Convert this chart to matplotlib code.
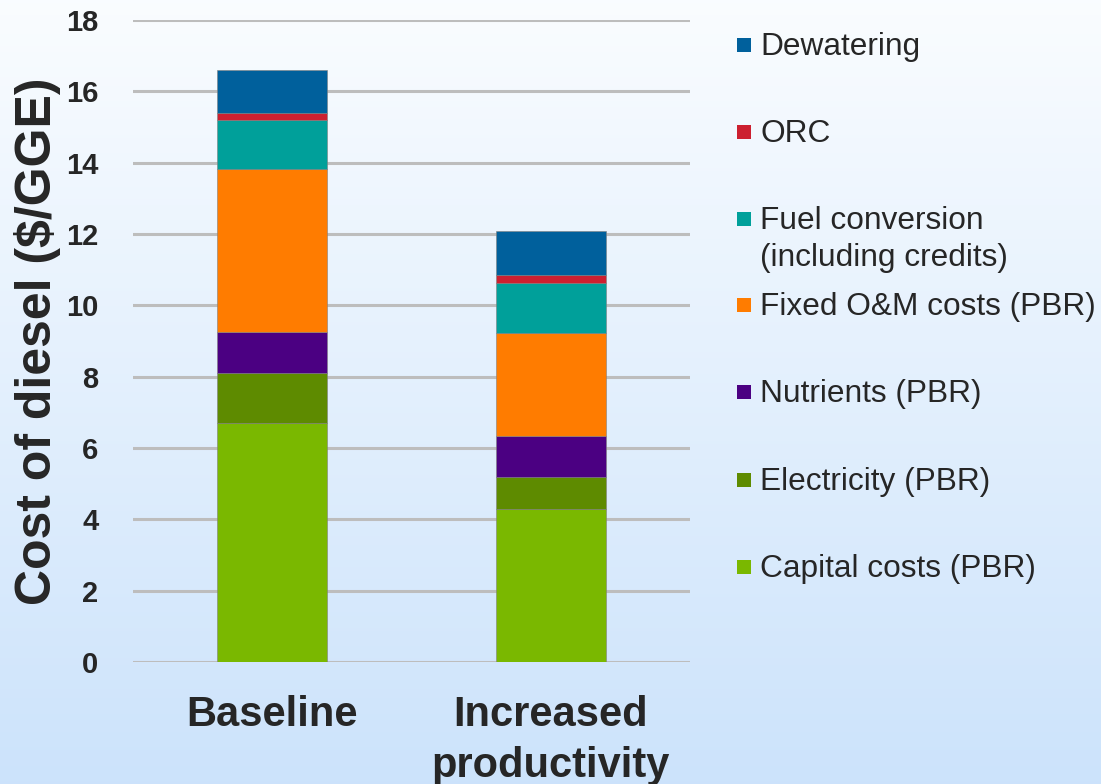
import numpy as np
import matplotlib.pyplot as plt
from matplotlib.patches import Rectangle

# Data, bottom to top
scenarios = ["Baseline", "Increased\nproductivity"]
capital = [6.69, 4.28]
electricity = [1.40, 0.90]
nutrients = [1.15, 1.16]
fixed_om = [4.57, 2.89]
fuel_conversion = [1.40, 1.41]
orc = [0.17, 0.21]
dewatering = [1.22, 1.23]

series = [capital, electricity, nutrients, fixed_om, fuel_conversion, orc, dewatering]
labels = ["Capital costs (PBR)", "Electricity (PBR)", "Nutrients (PBR)",
          "Fixed O&M costs (PBR)", "Fuel conversion\n(including credits)",
          "ORC", "Dewatering"]
colors = ["#7AB800", "#5E8B00", "#4B0082", "#FF7C00", "#00A09A", "#CC2030", "#00609C"]

yticks = [0, 2, 4, 6, 8, 10, 12, 14, 16, 18]

plt.rcParams['font.family'] = ['Liberation Sans', 'DejaVu Sans']
text_color = "#262626"

fig = plt.figure(figsize=(11.01, 7.84), dpi=100)

# Gradient background (white-ish top, light blue bottom)
bg = fig.add_axes([0, 0, 1, 1], zorder=-10)
grad = np.linspace(0, 1, 256).reshape(-1, 1)
top = np.array([0.98, 0.99, 1.0])
bottom = np.array([0.80, 0.89, 0.985])
img = top[None, None, :] * (1 - grad[:, :, None]) + bottom[None, None, :] * grad[:, :, None]
bg.imshow(img, aspect='auto', extent=[0, 1, 0, 1], origin='upper')
bg.set_axis_off()

ax = fig.add_axes([0.1208, 0.1556, 0.5059, 0.8189])
ax.patch.set_alpha(0)

x = np.arange(len(scenarios))
bottom_vals = np.zeros(len(scenarios))
for vals, lab, col in zip(series, labels, colors):
    ax.bar(x, vals, width=0.394, bottom=bottom_vals, color=col, label=lab,
           edgecolor="#808080", linewidth=0.4, zorder=3)
    bottom_vals += np.array(vals)

ax.set_xlim(-0.5, 1.5)
ax.set_ylim(0, 18)
ax.set_yticks(yticks)
ax.set_yticklabels([str(t) for t in yticks], fontsize=21, fontweight='bold', color=text_color)
ax.set_xticks(x)
ax.set_xticklabels(scenarios, fontsize=30, fontweight='bold', color=text_color,
                   linespacing=1.35)
ax.tick_params(axis='both', length=0)
ax.tick_params(axis='y', pad=25)
ax.tick_params(axis='x', pad=24)
for sp in ax.spines.values():
    sp.set_visible(False)
ax.yaxis.grid(True, color="#BDBDBD", linewidth=2.2, zorder=0)
ax.set_axisbelow(True)
ax.set_ylabel("Cost of diesel ($/GGE)", fontsize=36, fontweight='bold', color=text_color)
ax.yaxis.set_label_coords(-0.129, 0.5)

# Legend drawn manually: evenly spaced entries, top to bottom
legend_y = [45, 132, 219, 305, 392, 480, 567]
for (lab, col), ypix in zip(list(zip(labels, colors))[::-1], legend_y):
    yf = 1 - ypix / 784
    fig.patches.append(Rectangle((737 / 1101, yf - 7 / 784), 14 / 1101, 14 / 784,
                                 transform=fig.transFigure, facecolor=col,
                                 edgecolor='none'))
    fig.text(760 / 1101, yf + 13 / 784, lab, fontsize=22.8, color=text_color,
             va='top', ha='left', linespacing=1.3)

fig.savefig("out.png", dpi=100)
